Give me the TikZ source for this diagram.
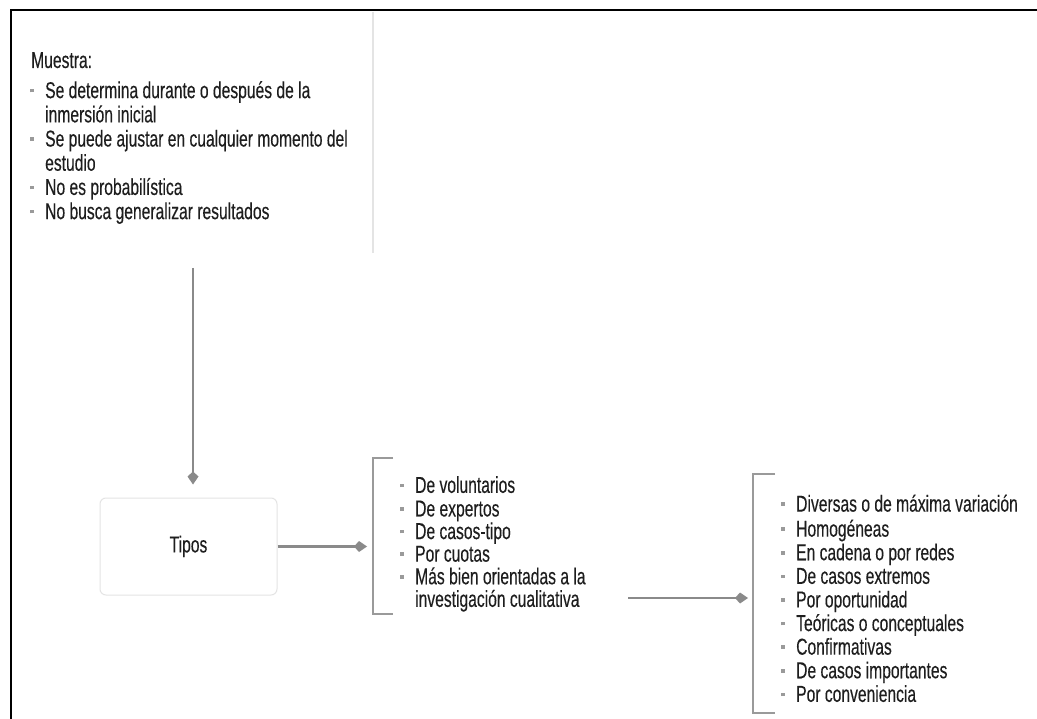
\documentclass[tikz,border=0pt]{standalone}
\usepackage{fontspec}
\setmainfont[FakeStretch=0.68,FakeBold=0.25]{Liberation Sans}
\usetikzlibrary{arrows.meta}
\definecolor{txt}{HTML}{1E1E1E}
\definecolor{arr}{HTML}{8A8A8A}
\definecolor{brk}{HTML}{9A9A9A}
\definecolor{faint}{HTML}{E4E4E4}
\newcommand{\bul}{\makebox[15pt][l]{\textcolor{brk}{\raisebox{0.25em}{\rule{3.5pt}{3.5pt}}}}}
\newcommand{\ind}{\hspace*{15pt}}
\begin{document}
\begin{tikzpicture}[x=1pt,y=-1pt,
  txtnode/.style={inner sep=0pt, anchor=north west, align=left, text=txt},
  conn/.style={draw=arr, line width=2.2pt, -{Kite[length=13pt,width=11pt,inset=5pt]}},
  brack/.style={draw=brk, line width=1.5pt},
  boxnode/.style={draw=faint, line width=1pt, rounded corners=6pt, minimum width=177pt, minimum height=97pt, inner sep=0pt, text=txt, font=\fontsize{23}{24}\selectfont}]
\useasboundingbox (0,0) rectangle (1037,719);
\fill[white] (0,0) rectangle (1037,719);
\draw[black, line width=2pt] (10,10) -- (1037,10);
\draw[black, line width=2pt] (11,10) -- (11,719);
\draw[faint, line width=1.2pt] (373,12) -- (373,253);

\node[txtnode, anchor=base west, font=\fontsize{23}{24}\selectfont] (muestraT) at (31,68) {Muestra:};
\node[txtnode, font=\fontsize{23}{24.2}\selectfont] (muestraL) at (30,81) {\strut\bul Se determina durante o después de la\\
\ind inmersión inicial\\
\bul Se puede ajustar en cualquier momento del\\
\ind estudio\\
\bul No es probabilística\\
\bul No busca generalizar resultados};

\node[boxnode] (tipos) at (188.5,546.5) {Tipos};

\node[txtnode, font=\fontsize{23}{22.6}\selectfont] (list1) at (400,476) {\strut\bul De voluntarios\\
\bul De expertos\\
\bul De casos-tipo\\
\bul Por cuotas\\
\bul Más bien orientadas a la\\
\ind investigación cualitativa};

\node[txtnode, font=\fontsize{23}{23.6}\selectfont] (list2) at (781,494.5) {\strut\bul Diversas o de máxima variación\\
\bul Homogéneas\\
\bul En cadena o por redes\\
\bul De casos extremos\\
\bul Por oportunidad\\
\bul Teóricas o conceptuales\\
\bul Confirmativas\\
\bul De casos importantes\\
\bul Por conveniencia};

% brackets
\draw[brack] (393,458) -- (373,458) -- (373,614) -- (393,614);
\draw[brack] (775,474) -- (753,474) -- (753,713) -- (775,713);
\coordinate (b1) at (373,546.5);
\coordinate (b2) at (753,598);

% connectors
\coordinate (a1) at (193,268);
\coordinate (a2) at (628,598);
\draw[conn, shorten >=13pt] (a1) -- (a1 |- tipos.north);
\draw[conn, shorten >=6pt] (tipos.east) -- (b1);
\draw[conn, shorten >=5pt] (a2) -- (b2);
\end{tikzpicture}
\end{document}
